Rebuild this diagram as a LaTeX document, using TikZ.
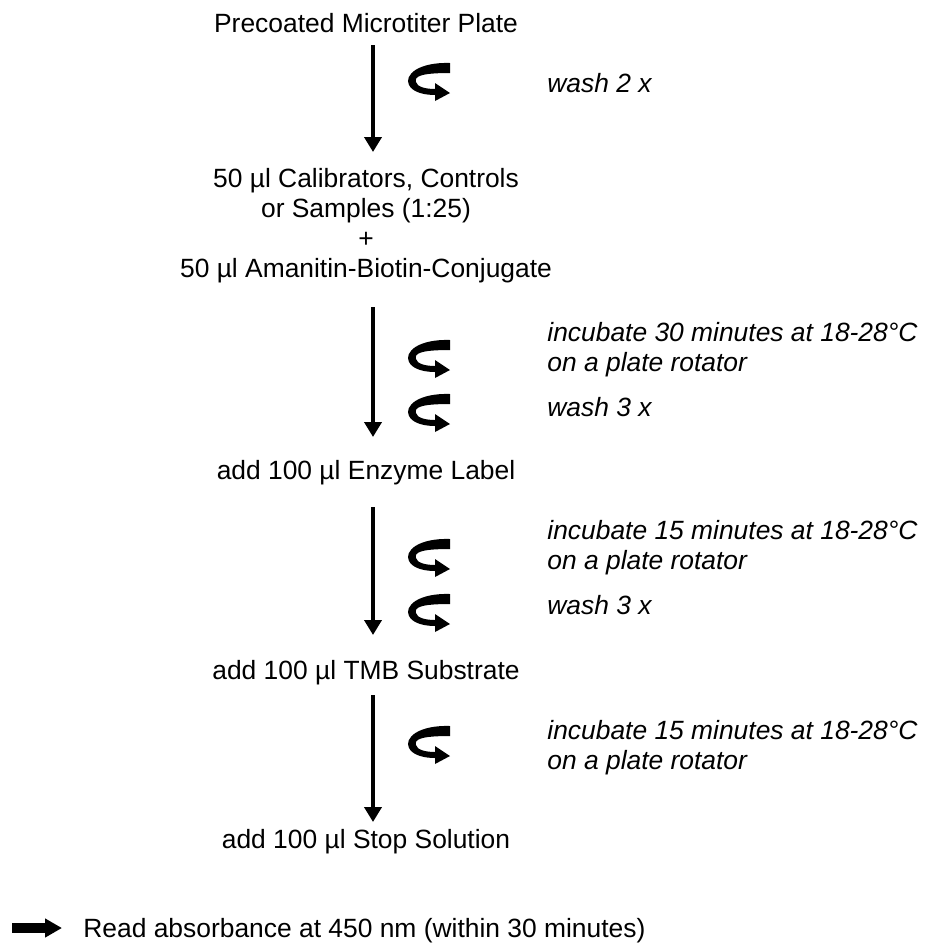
\documentclass[tikz,border=0pt]{standalone}
\usepackage{fontspec}
\setmainfont{Liberation Sans}
\usetikzlibrary{arrows.meta}

\tikzset{
  stage/.style={font=\fontsize{13.2pt}{15pt}\selectfont, inner sep=0pt, align=center},
  note/.style={font=\fontsize{13.2pt}{15pt}\selectfont\itshape, inner sep=0pt, align=left},
  flow/.style={line width=2pt, -{Triangle[length=7.5pt,width=8.5pt]}},
  readarrow/.style={line width=5pt, -{Triangle[length=8.5pt,width=9pt]}},
  curl/.pic={
    \fill (20,-18) .. controls (-12,-19) and (-26,-6) .. (-21,4) .. controls (-17,12) and (-4,14) .. (5,14)
      -- (5,20) -- (20,12) -- (5,2) -- (5,8) .. controls (-4,8) and (-13,6) .. (-14,1)
      .. controls (-16,-5) and (-8,-8) .. (20,-8) -- cycle;
  }
}

\begin{document}
\begin{tikzpicture}[x=0.5pt, y=-0.5pt]
	\useasboundingbox (0,0) rectangle (929,943);
	\node[stage, anchor=base] (plate) at (366,32) {Precoated Microtiter Plate};
	\node[stage, anchor=north] (mix) at (366,168) {50 µl Calibrators, Controls\\or Samples (1:25)\\+\\50 µl Amanitin-Biotin-Conjugate};
	\node[stage, anchor=base] (enzyme) at (366,479) {add 100 µl Enzyme Label};
	\node[stage, anchor=base] (tmb) at (366,679) {add 100 µl TMB Substrate};
	\node[stage, anchor=base] (stop) at (366,848) {add 100 µl Stop Solution};
	\node[stage, anchor=base west] (read) at (83,937) {Read absorbance at 450 nm (within 30 minutes)};

	\node[note, anchor=base west] (wash1) at (547,92) {wash 2 x};
	\node[note, anchor=north west] (inc1) at (547,322) {incubate 30 minutes at 18-28°C\\on a plate rotator};
	\node[note, anchor=base west] (wash2) at (547,416) {wash 3 x};
	\node[note, anchor=north west] (inc2) at (547,520) {incubate 15 minutes at 18-28°C\\on a plate rotator};
	\node[note, anchor=base west] (wash3) at (547,614) {wash 3 x};
	\node[note, anchor=north west] (inc3) at (547,720) {incubate 15 minutes at 18-28°C\\on a plate rotator};

	\draw[flow] ([xshift=3.5pt,yshift=-6.5pt]plate.base) -- ([xshift=3.5pt,yshift=8pt]mix.north);
	\draw[flow] ([xshift=3.5pt,yshift=-12pt]mix.south) -- ([xshift=3.5pt,yshift=21pt]enzyme.base);
	\draw[flow] ([xshift=3.5pt,yshift=-14pt]enzyme.base) -- ([xshift=3.5pt,yshift=22pt]tmb.base);
	\draw[flow] ([xshift=3.5pt,yshift=-8pt]tmb.base) -- ([xshift=3.5pt,yshift=13pt]stop.base);
	\draw[readarrow] ([xshift=-35.5pt,yshift=4.5pt]read.base west) -- ([xshift=-10.5pt,yshift=4.5pt]read.base west);

	\foreach \y in {81,358,412,557,612,744}
		\pic at (430,\y) {curl};
\end{tikzpicture}
\end{document}
